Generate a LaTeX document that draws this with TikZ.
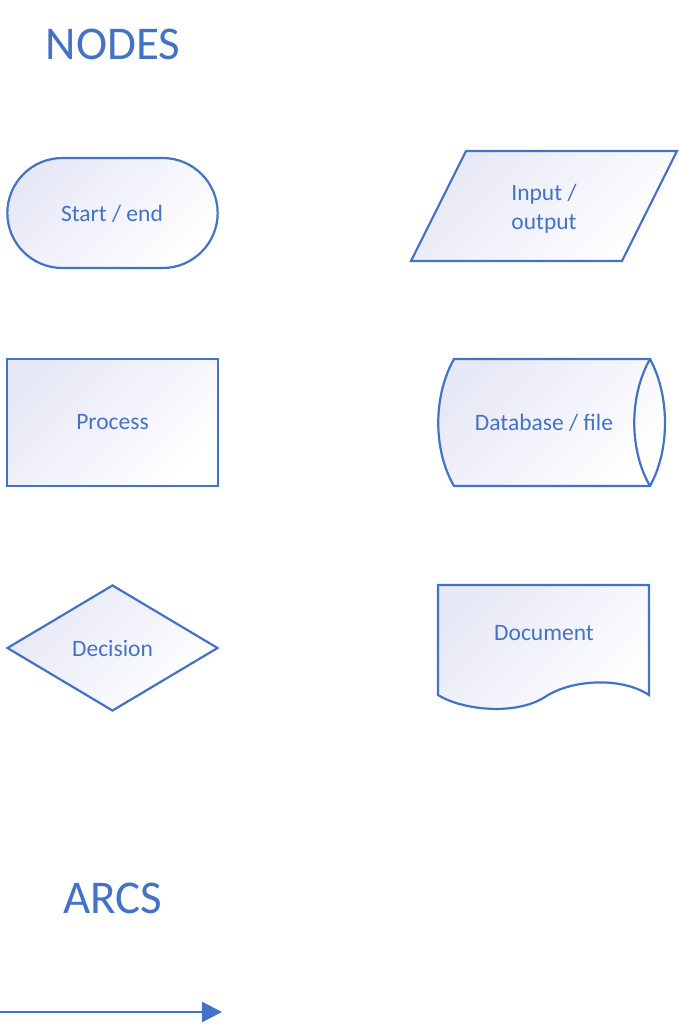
\documentclass[tikz,border=0pt]{standalone}
\usepackage{fontspec}
\setmainfont{Carlito}
\usetikzlibrary{shapes.geometric,shapes.misc,arrows.meta}
\definecolor{flowblue}{RGB}{68,114,196}
\definecolor{flowfill}{RGB}{230,232,246}

\begin{document}
\begin{tikzpicture}[x=1pt,y=-1pt,
  flowbox/.style={draw=flowblue,line width=2.2pt,top color=flowfill,bottom color=white,shading angle=45},
  boxtext/.style={text=flowblue,font=\fontsize{23.5}{28.7}\selectfont,align=center,inner sep=0pt},
  heading/.style={text=flowblue,font=\fontsize{47}{56}\selectfont,anchor=base,inner sep=0pt},
  flowarrow/.style={draw=flowblue,line width=2.5pt,-{Triangle[length=20pt,width=20pt]}}]
\useasboundingbox (0,0) rectangle (679,1024);

\node[heading] (nodes) at (113,60) {NODES};
\node[heading] (arcs) at (112.5,913) {ARCS};

\node[flowbox,rounded rectangle,minimum width=217pt,minimum height=110pt] (startend) at (112.5,213) {};
\node[boxtext] at (112,214) {Start / end};
\node[flowbox,rectangle,minimum width=211pt,minimum height=127pt] (process) at (112.5,422.5) {};
\node[boxtext] at (process) {Process};
\node[flowbox,diamond,minimum width=211pt,minimum height=126pt] (decision) at (112.5,648) {};
\node[boxtext] at (decision) {Decision};

\draw[flowbox] (466,151) -- (677,151) -- (622,261) -- (411,261) -- cycle;
\node[boxtext] (inout) at (544,209) {Input /\\output};

\draw[flowbox] (454,359) -- (650,359) .. controls (670,396) and (670,450) .. (650,486)
  -- (454,486) .. controls (433,450) and (433,396) .. cycle;
\draw[draw=flowblue,line width=2.2pt] (650,359) .. controls (629,396) and (629,450) .. (650,486);
\node[boxtext] (database) at (544,423) {Database / file};

\draw[flowbox] (438,585) -- (649,585) -- (649,695) .. controls (620,676) and (570,680) .. (545,697)
  .. controls (515,716) and (462,710) .. (438,695) -- cycle;
\node[boxtext] (document) at (544,633) {Document};

\coordinate (arcstart) at (0,1012);
\coordinate (arcend) at (222,1012);
\draw[flowarrow] (arcstart) -- (arcend);
\end{tikzpicture}
\end{document}
